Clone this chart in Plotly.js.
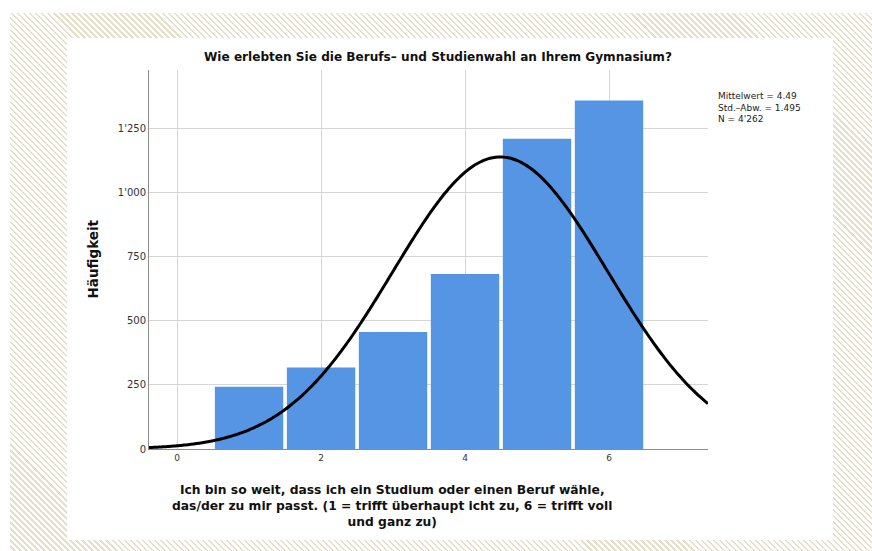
<!DOCTYPE html>
<html>
<head>
<meta charset="utf-8">
<script src="https://cdn.plot.ly/plotly-3.0.1.min.js"></script>
<style>
  html, body { margin: 0; padding: 0; background: #ffffff; }
  #frame {
    position: absolute; left: 10px; top: 13px; width: 862px; height: 538px;
    background: repeating-linear-gradient(45deg, #ffffff 0px, #ffffff 2.7px, #e6dfc9 2.7px, #e6dfc9 4.25px);
  }
  #panel {
    position: absolute; left: 67px; top: 38px; width: 766px; height: 502px;
    background: #ffffff;
  }
  #chart { position: absolute; left: 0; top: 0; width: 872px; height: 551px; }
</style>
</head>
<body>
<div id="frame"></div>
<div id="panel"></div>
<div id="chart"></div>
<script>
// Antwortstufen 1..6 und ihre Häufigkeiten
const categories = [1, 2, 3, 4, 5, 6];
const counts = [242, 317, 456, 682, 1208, 1357];

// Kennwerte der Verteilung (Normalverteilungskurve)
const mean = 4.49;
const stdDev = 1.495;
const nTotal = 4262;

// Achsenbeschriftungen
const yTickVals = [0, 250, 500, 750, 1000, 1250];
const yTickText = ["0", "250", "500", "750", "1'000", "1'250"];
const xTickVals = [0, 2, 4, 6];
const xTickText = ["0", "2", "4", "6"];

const xRange = [-0.39, 7.375];

// Normalverteilungskurve aus Mittelwert, Std.-Abw. und N (Klassenbreite 1)
const curveX = [];
const curveY = [];
const steps = 200;
for (let i = 0; i <= steps; i++) {
  const x = xRange[0] + (xRange[1] - xRange[0]) * i / steps;
  const z = (x - mean) / stdDev;
  curveX.push(x);
  curveY.push(nTotal / (stdDev * Math.sqrt(2 * Math.PI)) * Math.exp(-0.5 * z * z));
}

const font = "DejaVu Sans, Verdana, sans-serif";

const traces = [
  {
    type: "bar",
    x: categories,
    y: counts,
    width: 0.95,
    marker: { color: "#5595e4", line: { width: 0 } },
    hoverinfo: "x+y"
  },
  {
    type: "scatter",
    mode: "lines",
    x: curveX,
    y: curveY,
    line: { color: "#000000", width: 3, shape: "spline" },
    hoverinfo: "skip"
  }
];

const statText = [
  "Mittelwert = " + mean,
  "Std.–Abw. = " + stdDev,
  "N = 4'262"
].join("<br>");

const xTitleText = [
  "Ich bin so weit, dass ich ein Studium oder einen Beruf wähle,",
  "das/der zu mir passt. (1 = trifft überhaupt icht zu, 6 = trifft voll",
  "und ganz zu)"
].join("<br>");

// Pixel -> Papierkoordinaten der Zeichenfläche
const px = x => (x - 149) / (708 - 149);
const py = y => 1 - (y - 70) / (449 - 70);

const annotations = [
  {
    xref: "paper", yref: "paper",
    x: px(717), xanchor: "left",
    y: py(90), yanchor: "top",
    align: "left",
    text: statText, showarrow: false, borderpad: 0,
    font: { family: font, size: 9, color: "#222222" }
  },
  {
    xref: "paper", yref: "paper",
    x: px(392), xanchor: "center",
    y: py(506), yanchor: "middle",
    align: "center",
    text: "<b>" + xTitleText + "</b>", showarrow: false, borderpad: 0,
    font: { family: font, size: 12.3, color: "#111111" }
  },
  {
    xref: "paper", yref: "paper",
    x: px(92), xanchor: "center",
    y: 0.5, yanchor: "middle",
    textangle: -90,
    text: "<b>Häufigkeit</b>", showarrow: false, borderpad: 0,
    font: { family: font, size: 13.5, color: "#111111" }
  },
  {
    xref: "paper", yref: "paper",
    x: px(438), xanchor: "center",
    y: py(57), yanchor: "middle",
    text: "<b>Wie erlebten Sie die Berufs– und Studienwahl an Ihrem Gymnasium?</b>",
    showarrow: false, borderpad: 0,
    font: { family: font, size: 12.1, color: "#111111" }
  }
];

const layout = {
  width: 872,
  height: 551,
  margin: { l: 149, r: 164, t: 70, b: 102, pad: 0 },
  paper_bgcolor: "rgba(0,0,0,0)",
  plot_bgcolor: "#ffffff",
  showlegend: false,
  font: { family: font, size: 10, color: "#333333" },
  xaxis: {
    range: xRange,
    tickvals: xTickVals,
    ticktext: xTickText,
    tickfont: { family: font, size: 9, color: "#333333" },
    showgrid: true,
    gridcolor: "#d6d6d6",
    gridwidth: 1,
    zeroline: false,
    showline: true,
    linecolor: "#8c8c8c",
    linewidth: 1,
    ticks: "",
    fixedrange: true
  },
  yaxis: {
    range: [0, 1476],
    tickvals: yTickVals,
    ticktext: yTickText,
    tickfont: { family: font, size: 10, color: "#333333" },
    showgrid: true,
    gridcolor: "#d6d6d6",
    gridwidth: 1,
    zeroline: false,
    showline: true,
    linecolor: "#8c8c8c",
    linewidth: 1,
    ticks: "",
    fixedrange: true
  },
  annotations: annotations
};

Plotly.newPlot("chart", traces, layout, { displayModeBar: false, staticPlot: true });
</script>
</body>
</html>
